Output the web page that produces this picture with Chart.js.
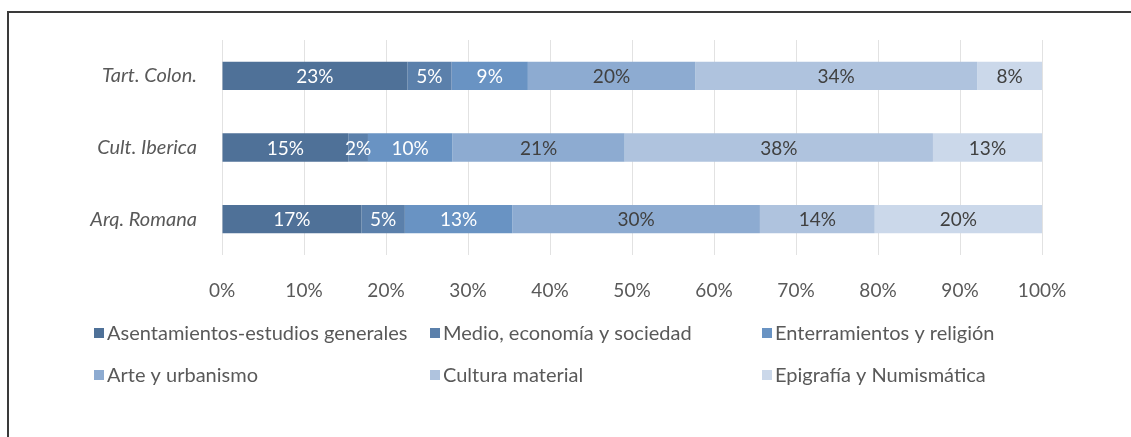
<!DOCTYPE html>
<html>
<head>
<meta charset="utf-8">
<script src="https://cdn.jsdelivr.net/npm/chart.js@4.4.1/dist/chart.umd.min.js"></script>
<style>
  html, body { margin: 0; padding: 0; background: #ffffff; }
  #wrap { position: relative; width: 1131px; height: 437px; overflow: hidden; }
  #frame { position: absolute; left: 7px; top: 11px; width: 1200px; height: 500px;
           border: 2px solid #3a3a3a; box-sizing: border-box; pointer-events: none; }
  canvas { position: absolute; left: 0; top: 0; }
</style>
</head>
<body>
<div id="wrap">
  <canvas id="c" width="1131" height="437"></canvas>
  <div id="frame"></div>
</div>
<script>
const categories = ["Tart. Colon.", "Cult. Iberica", "Arq. Romana"];
const seriesNames = [
  "Asentamientos-estudios generales",
  "Medio, economía y sociedad",
  "Enterramientos y religión",
  "Arte y urbanismo",
  "Cultura material",
  "Epigrafía y Numismática"
];
// share (%) of each series per category: [Tart. Colon., Cult. Iberica, Arq. Romana]
const asentamientos = [22.6, 15.4, 17.0];
const medio = [5.4, 2.4, 5.3];
const enterramientos = [9.3, 10.3, 13.1];
const arte = [20.4, 21.0, 30.2];
const cultura = [34.4, 37.6, 14.0];
const epigrafia = [7.9, 13.3, 20.4];
const tickLabels = ["0%", "10%", "20%", "30%", "40%", "50%", "60%", "70%", "80%", "90%", "100%"];

const seriesValues = [asentamientos, medio, enterramientos, arte, cultura, epigrafia];
const colors = ["#4f7198", "#5b80ab", "#6993c3", "#8dabd1", "#afc3de", "#cbd8ea"];
const labelColors = ["#ffffff", "#ffffff", "#ffffff", "#404040", "#404040", "#404040"];
const FONT = "Lato, 'Open Sans', sans-serif";

const segLabels = {
  id: 'segLabels',
  afterDatasetsDraw(chart) {
    const ctx = chart.ctx;
    ctx.save();
    ctx.font = "19px " + FONT;
    ctx.textAlign = 'center';
    ctx.textBaseline = 'middle';
    chart.data.datasets.forEach((ds, i) => {
      const meta = chart.getDatasetMeta(i);
      meta.data.forEach((bar, j) => {
        const v = ds.data[j];
        const cx = (bar.x + bar.base) / 2;
        ctx.fillStyle = labelColors[i];
        ctx.fillText(Math.round(v) + '%', cx, bar.y + 1);
      });
    });
    ctx.restore();
  }
};

const gridLegend = {
  id: 'gridLegend',
  afterDraw(chart) {
    const ctx = chart.ctx;
    const colX = [94, 430, 762];
    const rowY = [334, 376];
    ctx.save();
    ctx.font = "20px " + FONT;
    ctx.textBaseline = 'middle';
    ctx.textAlign = 'left';
    chart.data.datasets.forEach((ds, i) => {
      const x = colX[i % 3];
      const y = rowY[Math.floor(i / 3)];
      ctx.fillStyle = ds.backgroundColor;
      ctx.fillRect(x, y - 6, 10, 10);
      ctx.fillStyle = '#595959';
      ctx.fillText(ds.label, x + 13, y);
    });
    ctx.restore();
  }
};

new Chart(document.getElementById('c'), {
  type: 'bar',
  data: {
    labels: categories,
    datasets: seriesNames.map((name, i) => ({
      label: name,
      data: seriesValues[i],
      backgroundColor: colors[i],
      borderWidth: 0,
      barPercentage: 0.395,
      categoryPercentage: 1.0
    }))
  },
  options: {
    indexAxis: 'y',
    responsive: false,
    animation: false,
    devicePixelRatio: 1,
    layout: { padding: { top: 40, right: 89, bottom: 130, left: 0 } },
    plugins: { legend: { display: false }, tooltip: { enabled: false } },
    scales: {
      x: {
        stacked: true,
        min: 0, max: 100,
        afterFit(scale) { scale.height = 52; },
        ticks: {
          stepSize: 10,
          padding: 24,
          maxRotation: 0,
          color: '#595959',
          font: { family: FONT, size: 19 },
          callback: (v, idx) => tickLabels[idx]
        },
        grid: { color: '#e2e2e2', drawTicks: false, lineWidth: 1 },
        border: { display: false }
      },
      y: {
        stacked: true,
        afterFit(scale) { scale.width = 222; },
        ticks: {
          padding: 25,
          color: '#595959',
          font: { family: FONT, size: 20, style: 'italic' }
        },
        grid: { display: false, drawTicks: false },
        border: { display: false }
      }
    }
  },
  plugins: [segLabels, gridLegend]
});
</script>
</body>
</html>
